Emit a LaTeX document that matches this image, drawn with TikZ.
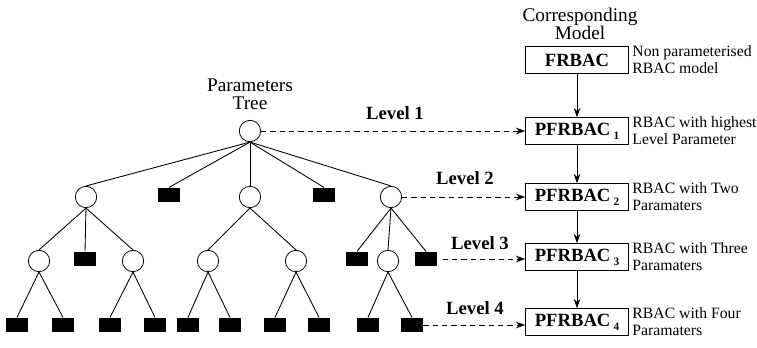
\documentclass[tikz,border=0pt]{standalone}
\usepackage{fontspec}
\setmainfont{Liberation Serif}
\usetikzlibrary{arrows.meta}
\newcommand{\lvsub}[1]{\,\raisebox{-0.45ex}{\fontsize{8.5}{8.5}\selectfont #1}}
\begin{document}
\begin{tikzpicture}[x=0.75pt, y=-0.75pt,
        param/.style={draw, circle, minimum size=16pt, inner sep=0pt, line width=0.6pt},
        leaf/.style={fill=black, rectangle, minimum width=16.5pt, minimum height=11pt, inner sep=0pt},
        model/.style={draw, rectangle, minimum width=77pt, minimum height=20pt, line width=0.7pt, font=\fontsize{14}{14}\selectfont\bfseries},
        note/.style={anchor=west, align=left, inner sep=0pt, font=\fontsize{11.8}{12.8}\selectfont},
        lvl/.style={font=\fontsize{14}{14}\selectfont\bfseries},
        tip/.style={-{Stealth[length=7pt, width=5pt]}},
        edge/.style={line width=0.65pt}]
        \useasboundingbox (0,0) rectangle (757,347);
        % headings
        \node[align=center, font=\fontsize{14.5}{13.5}\selectfont] (treehead) at (250,94) {Parameters\\Tree};
        \node[align=center, font=\fontsize{14.5}{13.5}\selectfont] (modelhead) at (580,24) {Corresponding\\Model};

        % parameters tree
        \node[param] (r) at (250,131) {};

        \node[param] (p1) at (86,197) {};
        \node[leaf] (s1) at (169,195) {};
        \node[param] (p2) at (250,197) {};
        \node[leaf] (s2) at (324,195) {};
        \node[param] (p3) at (391,197) {};

        \node[param] (q1) at (39,261) {};
        \node[leaf] (t1) at (85,259) {};
        \node[param] (q2) at (133,261) {};
        \node[param] (q3) at (208,261) {};
        \node[param] (q4) at (296,261) {};
        \node[leaf] (t2) at (357,259) {};
        \node[param] (q5) at (388,261) {};
        \node[leaf] (t3) at (426,259) {};

        \node[leaf] (u1) at (17,325) {};
        \node[leaf] (u2) at (63,325) {};
        \node[leaf] (u3) at (110,325) {};
        \node[leaf] (u4) at (155,325) {};
        \node[leaf] (u5) at (188,325) {};
        \node[leaf] (u6) at (230,325) {};
        \node[leaf] (u7) at (275,325) {};
        \node[leaf] (u8) at (319,325) {};
        \node[leaf] (u9) at (368,325) {};
        \node[leaf] (u10) at (412,325) {};

        \foreach \c in {p1,s1,p2,s2,p3}
            \draw[edge] (r.south) -- (\c.north);
        \foreach \c in {q1,t1,q2}
            \draw[edge] (p1.south) -- (\c.north);
        \foreach \c in {q3,q4}
            \draw[edge] (p2.south) -- (\c.north);
        \foreach \c in {t2,q5,t3}
            \draw[edge] (p3.south) -- (\c.north);
        \draw[edge] (q1.south) -- (u1.north);
        \draw[edge] (q1.south) -- (u2.north);
        \draw[edge] (q2.south) -- (u3.north);
        \draw[edge] (q2.south) -- (u4.north);
        \draw[edge] (q3.south) -- (u5.north);
        \draw[edge] (q3.south) -- (u6.north);
        \draw[edge] (q4.south) -- (u7.north);
        \draw[edge] (q4.south) -- (u8.north);
        \draw[edge] (q5.south) -- (u9.north);
        \draw[edge] (q5.south) -- (u10.north);

        % corresponding models
        \node[model] (fr) at (577,60) {FRBAC};
        \node[model] (pf1) at (577,131) {PFRBAC\lvsub{1}};
        \node[model] (pf2) at (577,197) {PFRBAC\lvsub{2}};
        \node[model] (pf3) at (577,257) {PFRBAC\lvsub{3}};
        \node[model] (pf4) at (577,322) {PFRBAC\lvsub{4}};

        \node[note] (n0) at ([xshift=2.5pt]fr.east) {Non parameterised\\RBAC model};
        \node[note] (n1) at ([xshift=2.5pt]pf1.east) {RBAC with highest\\Level Parameter};
        \node[note] (n2) at ([xshift=2.5pt]pf2.east) {RBAC with Two\\Paramaters};
        \node[note] (n3) at ([xshift=2.5pt]pf3.east) {RBAC with Three\\Paramaters};
        \node[note] (n4) at ([xshift=2.5pt]pf4.east) {RBAC with Four\\Paramaters};

        \draw[tip, line width=0.7pt] (fr) -- (pf1);
        \draw[tip, line width=0.7pt] (pf1) -- (pf2);
        \draw[tip, line width=0.7pt] (pf2) -- (pf3);
        \draw[tip, line width=0.7pt] (pf3) -- (pf4);

        % levels
        \node[lvl] (l1) at (395,113) {Level 1};
        \node[lvl] (l2) at (465,178) {Level 2};
        \node[lvl] (l3) at (480,243) {Level 3};
        \node[lvl] (l4) at (475,308) {Level 4};

        \draw[tip, dashed, dash pattern=on 4pt off 3pt, line width=0.7pt] (r.east) -- (r.east -| pf1.west);
        \draw[tip, dashed, dash pattern=on 4pt off 3pt, line width=0.7pt] (p3.east) -- (p3.east -| pf2.west);
        \draw[tip, dashed, dash pattern=on 4pt off 3pt, line width=0.7pt] ([xshift=4pt]t3.east) -- (t3.east -| pf3.west);
        \draw[tip, dashed, dash pattern=on 4pt off 3pt, line width=0.7pt] (u10.east) -- (u10.east -| pf4.west);
\end{tikzpicture}
\end{document}
